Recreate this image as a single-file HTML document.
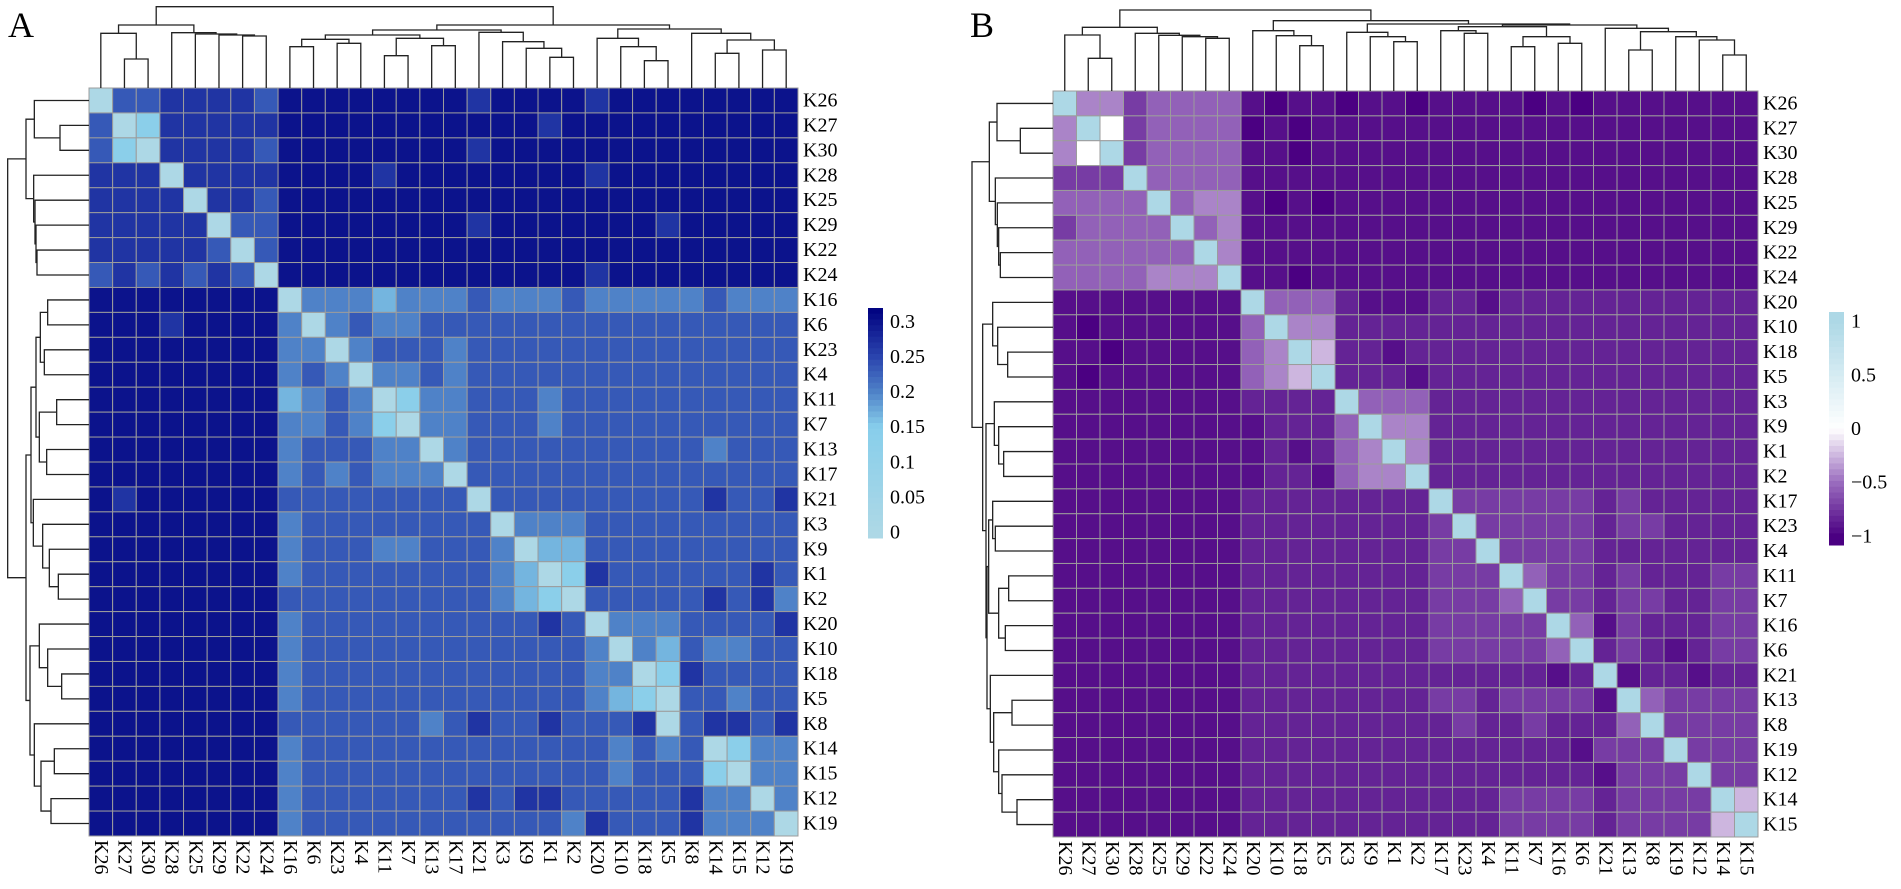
<!DOCTYPE html>
<html><head><meta charset="utf-8"><style>
html,body{margin:0;padding:0;background:#fff;}
svg{display:block;font-family:"Liberation Serif",serif;}
</style></head><body>
<svg id="fig" width="1901" height="889" viewBox="0 0 1901 889" xmlns="http://www.w3.org/2000/svg">
<text x="8" y="37" font-size="36">A</text>
<text x="970" y="37" font-size="36">B</text>
<g id="pa"></g>
<g id="pb"></g>
</svg>
<script>
const labelsA = ["K26","K27","K30","K28","K25","K29","K22","K24","K16","K6","K23","K4","K11","K7","K13","K17","K21","K3","K9","K1","K2","K20","K10","K18","K5","K8","K14","K15","K12","K19"];
const labelsB = ["K26","K27","K30","K28","K25","K29","K22","K24","K20","K10","K18","K5","K3","K9","K1","K2","K17","K23","K4","K11","K7","K16","K6","K21","K13","K8","K19","K12","K14","K15"];
// panel A: digit d -> value d/30
const rowsA = [
"077888879999999989999899999999",
"704888889999999999989999999999",
"740888879999999989999999999999",
"888088889999899999999899999999",
"888808879999999999999999999999",
"888880779999999989999999899999",
"888887079999999999999999999999",
"787878709999999999999899999999",
"999999990666566676667666667666",
"999899996067667777777777777777",
"999999996606777677777777777777",
"999999996760667677777777777777",
"999999995676046677767777777777",
"999999996676406677767777777777",
"999999996777660677777777776777",
"999999996767666077777777777777",
"989999997777777707777777778778",
"999999996777777770666777777777",
"999999996777667776055777777777",
"999999996777777776504877777787",
"999999997777777776540777778786",
"999999996777777777787066677778",
"999999996777777777777606576677",
"999999996777777777777660487777",
"999999996777777777777654077677",
"999999997777776787787778078878",
"999999996777777777777767670466",
"999999996777777777777767774066",
"999999996777777787887777786606",
"999999996777777777776877786660"];
const valuesA = rowsA.map(r => r.split("").map(c => (+c) / 30));
// panel B: digit -> correlation level
const levelsB = [-1,-0.93,-0.84,-0.72,-0.55,-0.42,-0.25,0,0.5,1];
const rowsB = [
"955344441011011011110101111111",
"597344440101111111111111111111",
"579344441101111111111111111111",
"333944441111111111111111111111",
"444494551010111111111111111111",
"344449451111111111111111111111",
"444444951111111111111111111111",
"444455591101111111111111111111",
"111111119444211122122222222222",
"101111114955222222222222222222",
"110111114596221222222222222222",
"101111114569222122222222222222",
"111111112222944422222222222222",
"111111111222495522222222222222",
"111111111212459522222222222222",
"111111111221455922222222222222",
"111111112222222293333332322222",
"111111112222222239333332332222",
"111111112222222233933332222222",
"111111112222222233394332322233",
"111111112222222233349332332233",
"111111112222222233333941322233",
"111111112222222233333492321233",
"111111112222222222222129122122",
"111111112222222233233331943333",
"111111112222222223223222493333",
"111111112222222222222213339333",
"111111112222222222222221333933",
"111111112222222222233332333396",
"111111112222222222233332333369"];
const valuesB = rowsB.map(r => r.split("").map(c => levelsB[+c]));
const ticksA = [0, 0.05, 0.1, 0.15, 0.2, 0.25, 0.3];
const tickLabelsA = ["0","0.05","0.1","0.15","0.2","0.25","0.3"];
const ticksB = [-1, -0.5, 0, 0.5, 1];
const tickLabelsB = ["\u22121","\u22120.5","0","0.5","1"];
const treeA = [[[0,[1,2,177],100],[3,[4,[5,[6,7,108],105],102],98],75],
  [[[[[8,9,140],[10,11,130],118],[[12,13,167],[14,15,137],115],105],[16,[17,[18,[19,20,172],145],125],97],90],
   [[21,[22,[23,24,182],140],115],[25,[[26,27,160],[28,29,150],120],100],87],75],20];
const treeB = [[[0,[1,2,175],105],[3,[4,[5,[6,7,115],110],106],100],82],
  [[8,[9,[10,11,137],107],92],
   [[12,[13,[14,15,125],110],97],
    [[[16,[17,18,100],92],[[19,20,140],[21,22,130],110],80],[23,[[24,25,150],[26,[27,[28,29,165],120],110],95],85],75],72],62],30];

const NS = "http://www.w3.org/2000/svg";
function mk(tag, attrs, parent){const e=document.createElementNS(NS,tag);for(const k in attrs)e.setAttribute(k,attrs[k]);parent.appendChild(e);return e;}
function hex(h){return [parseInt(h.substr(1,2),16),parseInt(h.substr(3,2),16),parseInt(h.substr(5,2),16)];}
function ramp(stops){return v=>{if(v<=stops[0][0])return stops[0][1];for(let i=1;i<stops.length;i++){if(v<=stops[i][0]){const a=stops[i-1],b=stops[i];const t=(v-a[0])/(b[0]-a[0]);const ca=hex(a[1]),cb=hex(b[1]);return "rgb("+ca.map((x,k)=>Math.round(x+(cb[k]-x)*t)).join(",")+")";}}return stops[stops.length-1][1];};}
const colA = ramp([[0,"#ADD8E6"],[0.15,"#87CEEB"],[0.2,"#4F82C8"],[0.25,"#2A44AE"],[0.32,"#00007F"]]);
const colB = ramp([[-1,"#4B0082"],[-0.5,"#9A6CBE"],[0,"#FFFFFF"],[1,"#ADD8E6"]]);

function panel(g, labels, values, col, geo, tree, ticks, tickLabels, cb, prefix){
  const n = labels.length;
  const cw = (geo.x1-geo.x0)/n, ch = (geo.y1-geo.y0)/n;
  const xs = i => geo.x0 + i*cw, ys = i => geo.y0 + i*ch;
  for(let r=0;r<n;r++)for(let c=0;c<n;c++){
    const e = mk("rect",{x:xs(c),y:ys(r),width:cw,height:ch,fill:col(values[r][c]),stroke:"#9c9c9c","stroke-width":1},g);
    
    
  }
  for(let i=0;i<n;i++){
    const t = mk("text",{x:geo.x1+5,y:ys(i)+ch/2,"font-size":20,"dominant-baseline":"central"},g);
    t.textContent = labels[i];
    
    
    const cx = xs(i)+cw/2, cy = geo.y1+4;
    const u = mk("text",{x:cx,y:cy,"font-size":20,"dominant-baseline":"central",transform:"rotate(90 "+cx+" "+cy+")"},g);
    u.textContent = labels[i];
    
    
  }
  const dg = mk("g",{stroke:"#222","stroke-width":1.3,fill:"none"},g);
  
  
  function draw(node){
    if(typeof node==="number") return {p:node, h:geo.y0};
    const a=draw(node[0]), b=draw(node[1]); const h=node[2]/3;
    const xa=xs(a.p)+cw/2, xb=xs(b.p)+cw/2;
    mk("path",{d:`M${xa},${a.h}V${h}H${xb}V${b.h}`},dg);
    const dist = v => geo.x0-(geo.y0-v);
    const ya=ys(a.p)+ch/2, yb=ys(b.p)+ch/2;
    mk("path",{d:`M${dist(a.h)},${ya}H${dist(h)}V${yb}H${dist(b.h)}`},dg);
    return {p:(a.p+b.p)/2, h:h};
  }
  draw(tree);
  const vy = v => cb.y0 + (cb.vmax - v)*(cb.y1-cb.y0)/(cb.vmax-cb.vmin);
  const steps = 40;
  for(let i=0;i<steps;i++){
    const v0 = cb.vmax-(cb.vmax-cb.vmin)*i/steps, v1 = cb.vmax-(cb.vmax-cb.vmin)*(i+1)/steps;
    const e = mk("rect",{x:cb.x,y:vy(v0),width:15,height:vy(v1)-vy(v0)+0.5,fill:col((v0+v1)/2)},g);
    
    
  }
  ticks.forEach((t,i)=>{
    const e = mk("text",{x:cb.x+22,y:vy(t),"font-size":20,"dominant-baseline":"central"},g);
    e.textContent = tickLabels[i];
    
    
  });
}
panel(document.getElementById("pa"), labelsA, valuesA, colA, {x0:89,x1:798,y0:88,y1:836}, treeA, ticksA, tickLabelsA, {x:868,y0:308,y1:538,vmax:0.32,vmin:-0.008}, "a");
panel(document.getElementById("pb"), labelsB, valuesB, colB, {x0:1053,x1:1758,y0:91,y1:837}, treeB, ticksB, tickLabelsB, {x:1829,y0:312,y1:545,vmax:1.09,vmin:-1.08}, "b");
</script>
</body></html>
